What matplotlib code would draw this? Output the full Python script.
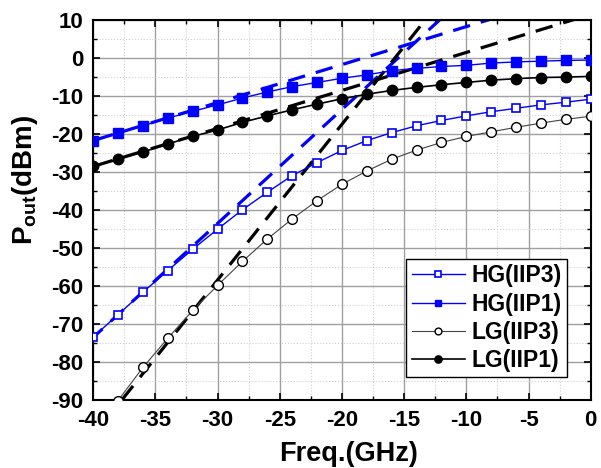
import numpy as np
import matplotlib.pyplot as plt
from matplotlib.ticker import MultipleLocator

plt.rcParams['font.family'] = ['Liberation Sans', 'DejaVu Sans']
plt.rcParams['font.weight'] = 'bold'
plt.rcParams['axes.unicode_minus'] = False
plt.rcParams['mathtext.fontset'] = 'custom'
plt.rcParams['mathtext.bf'] = 'Liberation Sans:bold'
plt.rcParams['mathtext.rm'] = 'Liberation Sans:bold'

freq = np.arange(-40, 1, 2)

hg_iip3 = [-73.4, -67.5, -61.6, -55.9, -50.3, -45.0, -39.9, -35.3, -30.9, -27.5, -24.3,
           -21.7, -19.6, -17.8, -16.4, -15.2, -14.1, -13.2, -12.3, -11.6, -10.8]
hg_iip1 = [-21.7, -19.6, -17.8, -15.8, -14.0, -12.3, -10.5, -8.9, -7.5, -6.4, -5.3,
           -4.4, -3.3, -2.7, -2.2, -1.9, -1.3, -1.0, -0.8, -0.6, -0.5]
lg_iip3 = [np.nan, -90.1, -81.4, -73.7, -66.4, -59.8, -53.5, -47.6, -42.3, -37.5, -33.2,
           -29.7, -26.6, -24.2, -22.2, -20.6, -19.4, -18.2, -17.1, -16.1, -15.3]
lg_iip1 = [-28.5, -26.6, -24.7, -22.6, -20.6, -18.9, -16.9, -15.2, -13.6, -12.1, -10.7,
           -9.5, -8.5, -7.7, -7.0, -6.4, -5.8, -5.4, -5.1, -5.0, -4.8]

# extrapolation lines (slope, intercept)
hg1_fit = (1.0, 18.3)
hg3_fit = (3.0, 46.5)
lg1_fit = (1.0, 11.5)
lg3_fit = (4.1, 64.6)

fig = plt.figure(figsize=(6.01, 4.68), dpi=100)
ax = fig.add_axes([0.155, 0.145, 0.828, 0.812])

xx = np.linspace(-42, 2, 200)
dash = (5.5, 3.5)
ax.plot(xx, hg1_fit[0]*xx + hg1_fit[1], color='#0000ff', lw=2.3, dashes=dash, zorder=2)
ax.plot(xx, hg3_fit[0]*xx + hg3_fit[1], color='#0000ff', lw=2.3, dashes=dash, zorder=2)
ax.plot(xx, lg1_fit[0]*xx + lg1_fit[1], color='black', lw=2.3, dashes=dash, zorder=2)
ax.plot(xx, lg3_fit[0]*xx + lg3_fit[1], color='black', lw=2.3, dashes=dash, zorder=2)

ax.plot(freq, hg_iip3, color='#0000ff', lw=1, marker='s', ms=6, mfc='white',
        mec='#0000ff', mew=1.2, label='HG(IIP3)', zorder=3)
ax.plot(freq, hg_iip1, color='#0000ff', lw=1, marker='s', ms=6.5, mfc='#0000ff',
        mec='#0000ff', label='HG(IIP1)', zorder=3)
ax.plot(freq, lg_iip3, color='#444444', lw=0.8, marker='o', ms=7, mfc='white',
        mec='black', mew=1, label='LG(IIP3)', zorder=3)
ax.plot(freq, lg_iip1, color='black', lw=1.2, marker='o', ms=7.5, mfc='black',
        mec='black', label='LG(IIP1)', zorder=3)

ax.set_xlim(-40, 0)
ax.set_ylim(-90, 10)
ax.xaxis.set_major_locator(MultipleLocator(5))
ax.xaxis.set_minor_locator(MultipleLocator(2.5))
ax.yaxis.set_major_locator(MultipleLocator(10))
ax.yaxis.set_minor_locator(MultipleLocator(5))
ax.grid(which='major', color='#a0a0a0', lw=1)
ax.grid(which='minor', color='#d0d0d0', lw=0.8, ls=':')
ax.set_axisbelow(True)
ax.tick_params(which='both', direction='in', top=True, right=True, labelsize=16)
ax.tick_params(which='major', length=5, width=1.2, pad=7)
ax.tick_params(which='minor', length=3, width=1)
for s in ax.spines.values():
    s.set_linewidth(1.5)

ax.set_xlabel('Freq.(GHz)', fontsize=19.5, fontweight='bold')
ax.set_ylabel(r'$\mathbf{P_{out}}$(dBm)', fontsize=20, fontweight='bold')
ax.xaxis.set_label_coords(0.513, -0.108)
ax.yaxis.set_label_coords(-0.107, 0.58)

leg = ax.legend(loc='lower right', bbox_to_anchor=(0.953, 0.06),
                prop={'size': 16.5, 'weight': 'bold'},
                frameon=True, fancybox=False, edgecolor='black', framealpha=1,
                markerscale=0.7, handlelength=2.3, borderpad=0.25, labelspacing=0.22,
                handletextpad=0.3, borderaxespad=0)
leg.get_frame().set_linewidth(1)

fig.savefig('out.png', dpi=100)
